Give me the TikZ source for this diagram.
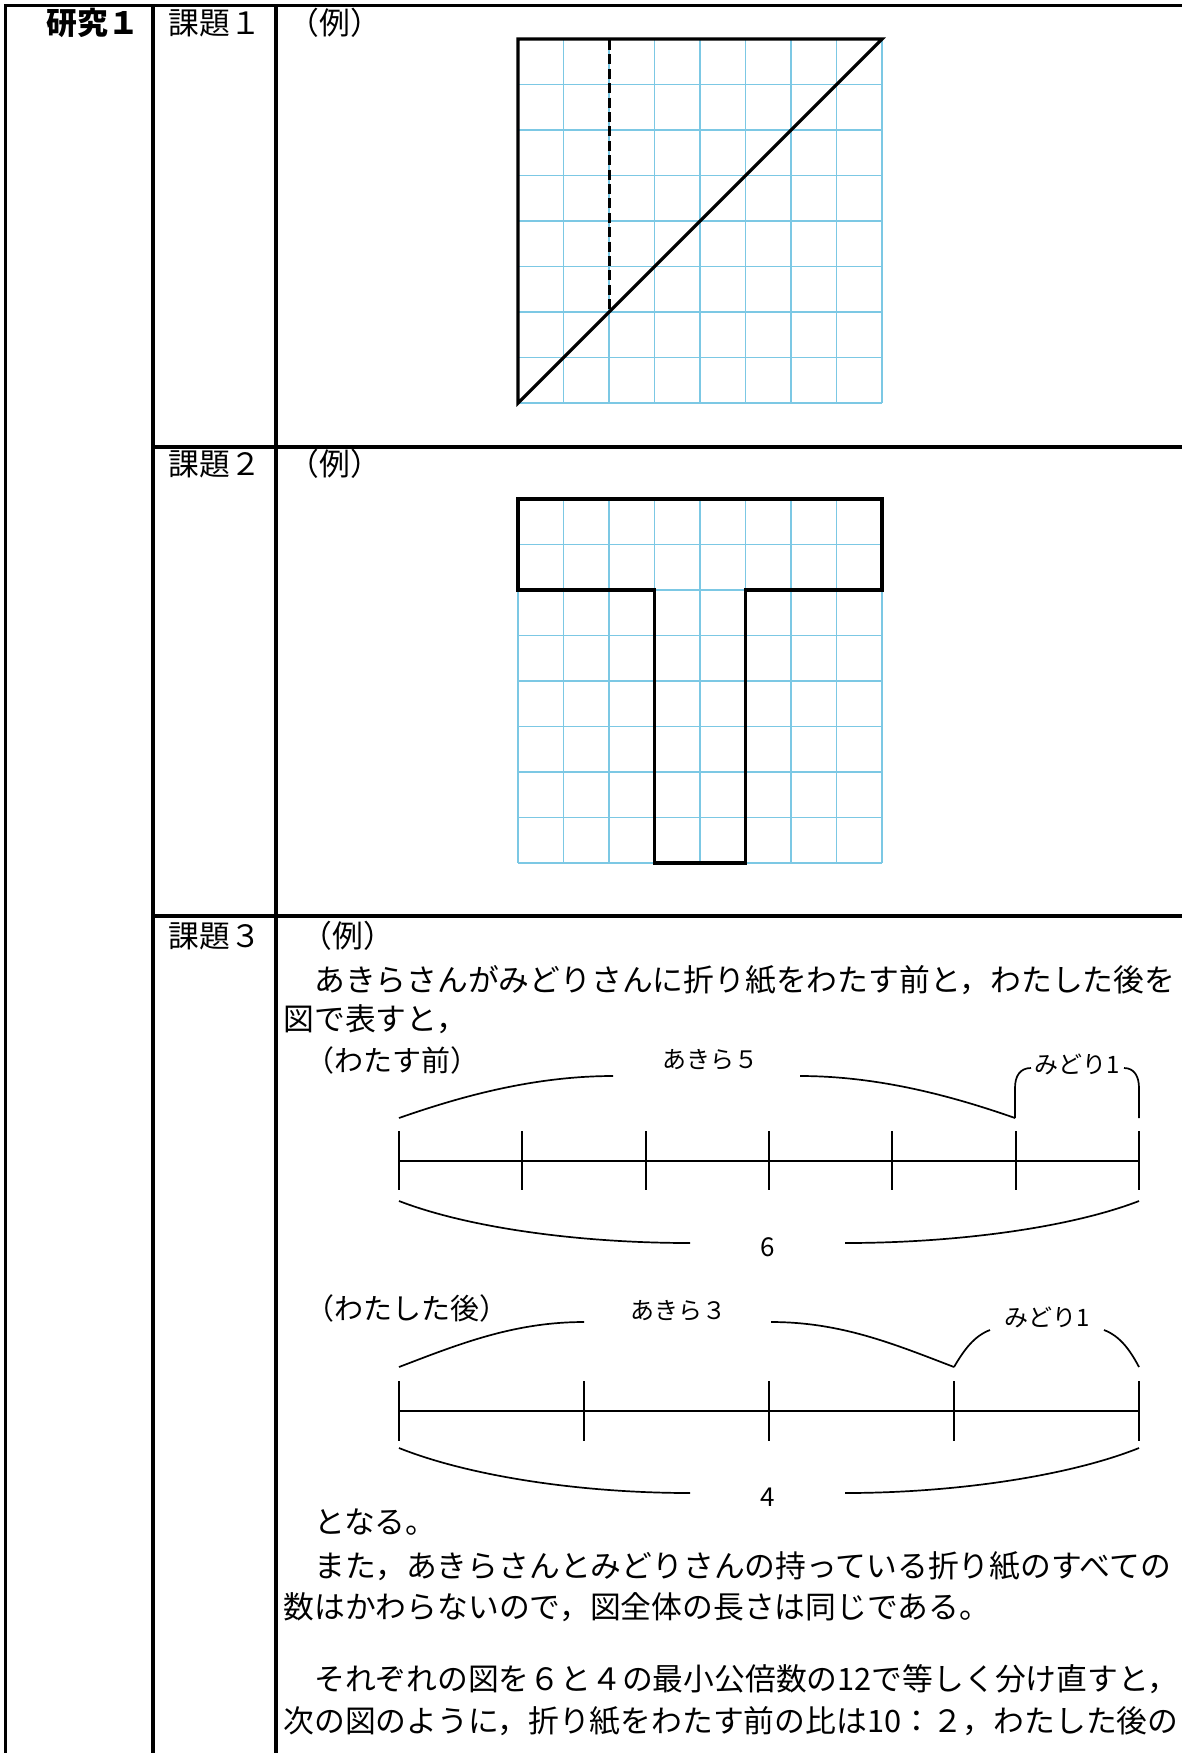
\documentclass[tikz,border=0pt]{standalone}
\usepackage{fontspec}
\newfontfamily\jp{Noto Sans CJK JP}
\definecolor{gridblue}{HTML}{7CC8E4}
\tikzset{
 tbl/.style={line width=1.6pt, line cap=rect},
 gridln/.style={draw=gridblue, line width=0.7pt},
 outline/.style={line width=1.6pt, line join=miter, line cap=rect},
 dashline/.style={line width=1.5pt, dash pattern=on 5pt off 2.2pt},
 nline/.style={line width=0.85pt},
 bracel/.style={line width=0.85pt},
 jtext/.style={inner sep=0pt, anchor=base west, font=\jp\fontsize{15.4pt}{18pt}\selectfont},
 jbold/.style={inner sep=0pt, anchor=base west, font=\jp\bfseries\fontsize{15.4pt}{18pt}\selectfont},
 lbl/.style={inner sep=0pt, anchor=base, font=\jp\fontsize{12pt}{14pt}\selectfont},
 numlbl/.style={inner sep=0pt, anchor=base, font=\jp\fontsize{13pt}{15pt}\selectfont},
 sublbl/.style={inner sep=0pt, anchor=base west, font=\jp\fontsize{14.5pt}{17pt}\selectfont},
}
\begin{document}
\begin{tikzpicture}[x=0.5pt,y=-0.5pt]
\useasboundingbox (0,0) rectangle (1182,1753);
\clip (0,0) rectangle (1182,1753);

% ---------- grids ----------
\foreach \i in {0,...,8} {
  \draw[gridln] ({518+45.5*\i},39) -- ({518+45.5*\i},403);
  \draw[gridln] (518,{39+45.5*\i}) -- (882,{39+45.5*\i});
  \draw[gridln] ({518+45.5*\i},499) -- ({518+45.5*\i},863);
  \draw[gridln] (518,{499+45.5*\i}) -- (882,{499+45.5*\i});
}
% figure 1
\draw[outline] (882,39) -- (518,39) -- (518,403) -- cycle;
\draw[dashline] (609,40) -- (609,312);
% figure 2
\draw[outline] (518,499) -- (882,499) -- (882,590) -- (745.5,590) -- (745.5,863)
  -- (654.5,863) -- (654.5,590) -- (518,590) -- cycle;

% ---------- table ----------
\draw[tbl] (5.3,1760) -- (5.3,5.5) -- (1190,5.5);
\draw[tbl] (153,5.5) -- (153,1760);
\draw[tbl] (276,5.5) -- (276,1760);
\draw[tbl] (153,447) -- (1190,447);
\draw[tbl] (153,916) -- (1190,916);

% ---------- table labels ----------
\node[jbold] (k1) at (46,34) {研究１};
\node[jtext] (t1) at (168,34) {課題１};
\node[jtext] (e1) at (288,34) {（例）};
\node[jtext] (t2) at (168,475) {課題２};
\node[jtext] (e2) at (288,475) {（例）};
\node[jtext] (t3) at (168,947) {課題３};
\node[jtext] (e3) at (301,947) {（例）};

% ---------- row 3 text ----------
\node[jtext] (p1) at (283,991) {\hspace*{1em}あきらさんがみどりさんに折り紙をわたす前と，わたした後を};
\node[jtext] (p2) at (283,1030) {図で表すと，};
\node[jtext] (p3) at (283,1533) {\hspace*{1em}となる。};
\node[jtext] (p4) at (283,1577) {\hspace*{1em}また，あきらさんとみどりさんの持っている折り紙のすべての};
\node[jtext] (p5) at (283,1618) {数はかわらないので，図全体の長さは同じである。};
\node[jtext] (p6) at (283,1690) {\hspace*{1em}それぞれの図を６と４の最小公倍数の12で等しく分け直すと，};
\node[jtext] (p7) at (283,1732) {次の図のように，折り紙をわたす前の比は10：２，わたした後の};

% ---------- number line 1 (before) ----------
\node[sublbl] (h1) at (305,1071) {（わたす前）};
\node[lbl] (a1) at (710,1068) {あきら５};
\node[lbl] (m1) at (1077,1073) {みどり1};
\node[numlbl] (s1) at (768,1256) {6};
\coordinate (L1s) at (399,1161);
\coordinate (L1e) at (1139,1161);
\draw[nline] (L1s) -- (L1e);
\foreach \k in {0,...,6} {
  \draw[nline] ({399+123.33*\k},1131) -- ({399+123.33*\k},1190);
}
% upper brace
\draw[bracel] (399,1118) .. controls (459,1097) and (533,1076) .. (613,1076);
\draw[bracel] (800,1076) .. controls (880,1076) and (955,1097) .. (1015,1118);
% midori brace
\draw[bracel] (1015,1118) -- (1015,1088) .. controls (1015,1076) and (1020,1068) .. (1031,1068);
\draw[bracel] (1124,1068) .. controls (1134,1068) and (1139,1076) .. (1139,1088) -- (1139,1118);
% lower brace
\draw[bracel] (399,1201) .. controls (469,1228) and (580,1243) .. (690,1243);
\draw[bracel] (845,1243) .. controls (955,1243) and (1069,1228) .. (1139,1201);

% ---------- number line 2 (after) ----------
\node[sublbl] (h2) at (305,1319) {（わたした後）};
\node[lbl] (a2) at (678,1319) {あきら３};
\node[lbl] (m2) at (1047,1326) {みどり1};
\node[numlbl] (s2) at (768,1506) {4};
\coordinate (L2s) at (399,1411);
\coordinate (L2e) at (1139,1411);
\draw[nline] (L2s) -- (L2e);
\foreach \k in {0,...,4} {
  \draw[nline] ({399+185*\k},1381) -- ({399+185*\k},1441);
}
% upper brace
\draw[bracel] (399,1367) .. controls (459,1344) and (514,1322) .. (584,1322);
\draw[bracel] (771,1322) .. controls (841,1322) and (894,1344) .. (954,1367);
% midori brace
\draw[bracel] (954,1367) .. controls (964,1350) and (974,1336) .. (990,1330);
\draw[bracel] (1104,1330) .. controls (1120,1336) and (1130,1350) .. (1139,1367);
% lower brace
\draw[bracel] (399,1448) .. controls (469,1476) and (580,1493) .. (690,1493);
\draw[bracel] (845,1493) .. controls (955,1493) and (1069,1476) .. (1139,1448);
\end{tikzpicture}
\end{document}
